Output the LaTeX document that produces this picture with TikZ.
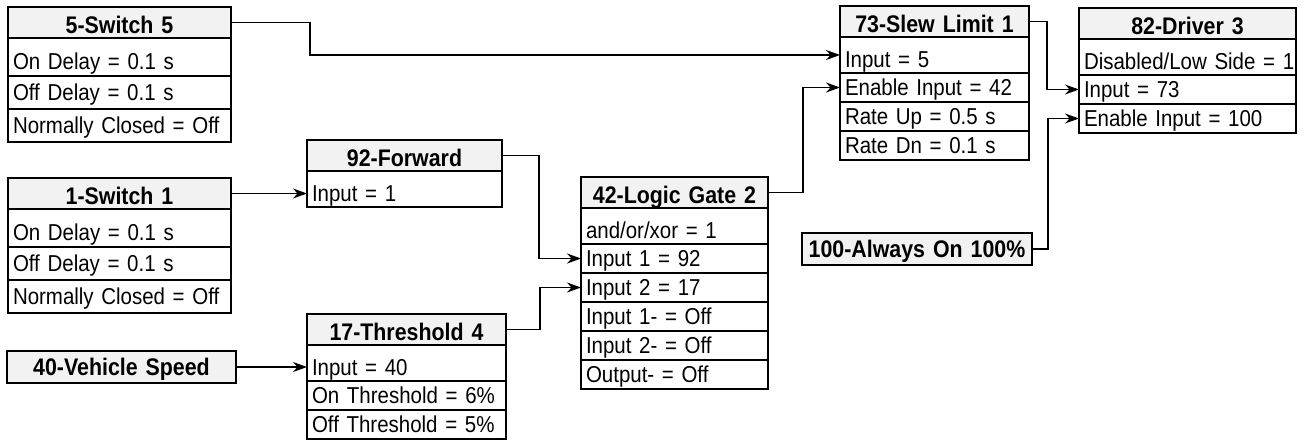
\documentclass[tikz,border=0pt]{standalone}
\usepackage{fontspec}
\setmainfont{Liberation Sans}[FakeStretch=0.89]
\usetikzlibrary{arrows.meta,positioning}

\begin{document}
\begin{tikzpicture}[
  x=0.5pt, y=-0.5pt,
  head/.style={draw, line width=0.8pt, fill=gray!10, outer sep=0pt, anchor=north west,
               inner xsep=2.5pt, inner ysep=0pt, text width=#1, align=center,
               minimum height=15.5pt, text height=11.1pt, text depth=0pt,
               font=\fontsize{12}{14}\selectfont\bfseries},
  solo/.style={head=#1, minimum height=16pt, text height=8.6pt},
  row/.style={draw, line width=0.8pt, outer sep=0pt, inner xsep=2.5pt, inner ysep=0pt,
              text width=#1, align=left, minimum height=14.5pt,
              text height=8.2pt, text depth=0pt, font=\fontsize{11.5}{13}\selectfont},
  firstrow/.style={row=#1, minimum height=18pt, text height=12.2pt},
  tall/.style={minimum height=16.5pt},
  wire/.style={-{Stealth[length=7pt,width=5pt]}, line width=0.6pt}
]
\useasboundingbox (0,0) rectangle (1304,439);

\node[head=106.5pt] (sw5) at (8,7) {5-Switch 5};
\node[firstrow=106.5pt, minimum height=19pt, below=0pt of sw5] (sw5on) {On Delay = 0.1 s};
\node[row=106.5pt, tall, below=0pt of sw5on] (sw5off) {Off Delay = 0.1 s};
\node[row=106.5pt, tall, below=0pt of sw5off] (sw5nc) {Normally Closed = Off};

\node[head=106.5pt] (sw1) at (8,178) {1-Switch 1};
\node[firstrow=106.5pt, minimum height=19pt, below=0pt of sw1] (sw1on) {On Delay = 0.1 s};
\node[row=106.5pt, tall, below=0pt of sw1on] (sw1off) {Off Delay = 0.1 s};
\node[row=106.5pt, tall, below=0pt of sw1off] (sw1nc) {Normally Closed = Off};

\node[solo=109.5pt] (speed) at (7,351) {40-Vehicle Speed};

\node[head=92.5pt] (fwd) at (307,140) {92-Forward};
\node[firstrow=92.5pt, below=0pt of fwd] (fwdin) {Input = 1};

\node[head=94.5pt] (thr) at (307,314) {17-Threshold 4};
\node[firstrow=94.5pt, below=0pt of thr] (thrin) {Input = 40};
\node[row=94.5pt, below=0pt of thrin] (thron) {On Threshold = 6\%};
\node[row=94.5pt, below=0pt of thron] (throff) {Off Threshold = 5\%};

\node[head=88.5pt] (lg) at (581,177) {42-Logic Gate 2};
\node[firstrow=88.5pt, below=0pt of lg] (lgmode) {and/or/xor = 1};
\node[row=88.5pt, below=0pt of lgmode] (lgin1) {Input 1 = 92};
\node[row=88.5pt, below=0pt of lgin1] (lgin2) {Input 2 = 17};
\node[row=88.5pt, below=0pt of lgin2] (lginv1) {Input 1- = Off};
\node[row=88.5pt, below=0pt of lginv1] (lginv2) {Input 2- = Off};
\node[row=88.5pt, below=0pt of lginv2] (lgout) {Output- = Off};

\node[head=89.5pt] (slew) at (840,6) {73-Slew Limit 1};
\node[firstrow=89.5pt, below=0pt of slew] (slewin) {Input = 5};
\node[row=89.5pt, below=0pt of slewin] (slewen) {Enable Input = 42};
\node[row=89.5pt, below=0pt of slewen] (slewup) {Rate Up = 0.5 s};
\node[row=89.5pt, below=0pt of slewup] (slewdn) {Rate Dn = 0.1 s};

\node[head=103.5pt] (drv) at (1079,8) {82-Driver 3};
\node[firstrow=103.5pt, below=0pt of drv] (drvdis) {\mbox{Disabled/Low Side = 1}};
\node[row=103.5pt, below=0pt of drvdis] (drvin) {Input = 73};
\node[row=103.5pt, below=0pt of drvin] (drven) {Enable Input = 100};

\node[solo=110pt] (always) at (802,233) {100-Always On 100\%};

\draw[wire] (sw5.east) -- ++(79,0) |- (slewin.west);
\draw[wire] (sw1.east) -- (sw1.east -| fwdin.west);
\draw[wire] (speed.east) -- (speed.east -| thrin.west);
\draw[wire] (fwd.east) -- ++(37,0) |- (lgin1.west);
\draw[wire] (thr.east) -- ++(34,0) |- (lgin2.west);
\draw[wire] (lg.east) -- ++(35,0) |- (slewen.west);
\draw[wire] (slew.east) -- ++(18,0) |- (drvin.west);
\draw[wire] (always.east) -- ++(16,0) |- (drven.west);
\end{tikzpicture}
\end{document}
